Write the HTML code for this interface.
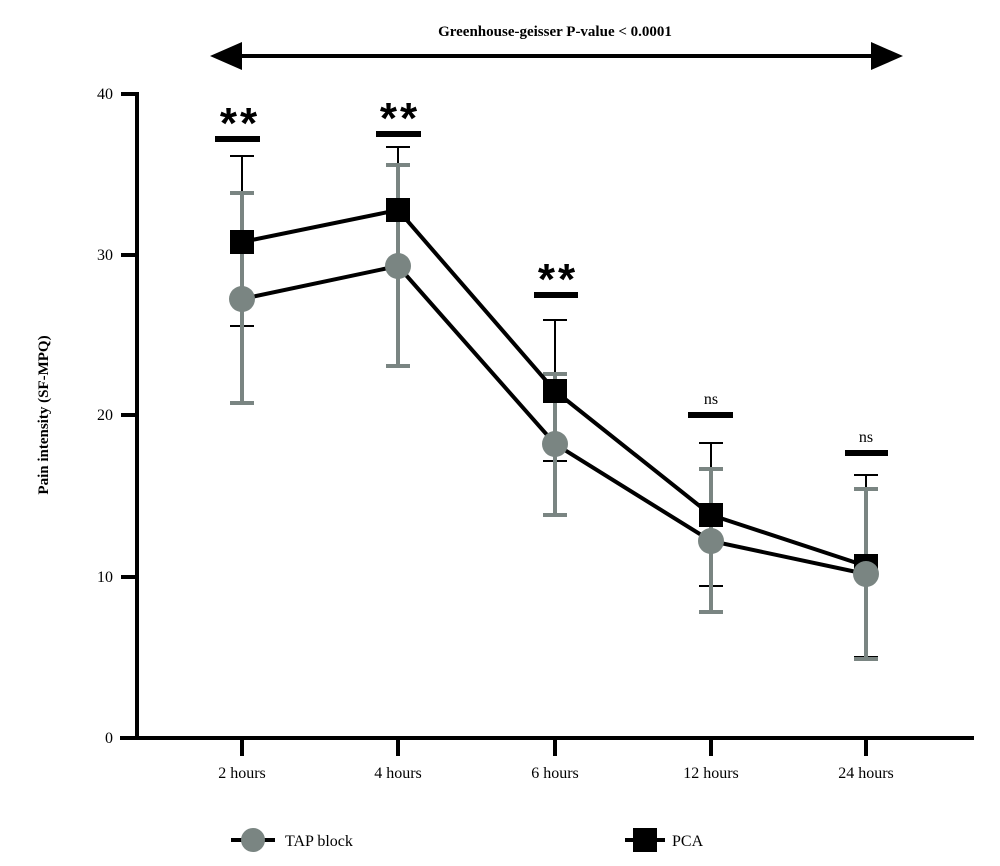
<!DOCTYPE html>
<html><head><meta charset="utf-8"><style>
html,body{margin:0;padding:0;background:#fff;}
svg{display:block;font-family:"Liberation Serif",serif;}
</style></head><body>
<svg width="1000" height="866" viewBox="0 0 1000 866">
<text x="555" y="36" text-anchor="middle" font-weight="bold" font-size="15">Greenhouse-geisser P-value &lt; 0.0001</text>
<line x1="235" y1="56" x2="878" y2="56" stroke="#000" stroke-width="4"/>
<polygon points="210,56 242,42 242,70" fill="#000"/>
<polygon points="903,56 871,42 871,70" fill="#000"/>
<text transform="translate(48,415) rotate(-90)" text-anchor="middle" font-weight="bold" font-size="15">Pain intensity (SF-MPQ)</text>
<g stroke="#000" stroke-width="4" fill="none">
<line x1="137" y1="92" x2="137" y2="740"/>
<line x1="120" y1="738" x2="974" y2="738"/>
<line x1="121" y1="94" x2="137" y2="94"/>
<line x1="121" y1="255" x2="137" y2="255"/>
<line x1="121" y1="415" x2="137" y2="415"/>
<line x1="121" y1="577" x2="137" y2="577"/>
<line x1="242" y1="738" x2="242" y2="756"/>
<line x1="398" y1="738" x2="398" y2="756"/>
<line x1="555" y1="738" x2="555" y2="756"/>
<line x1="711" y1="738" x2="711" y2="756"/>
<line x1="866" y1="738" x2="866" y2="756"/>
</g>
<g font-size="16" text-anchor="end">
<text x="113" y="99">40</text><text x="113" y="260">30</text><text x="113" y="420">20</text><text x="113" y="582">10</text><text x="113" y="743">0</text>
</g>
<g font-size="16" text-anchor="middle">
<text x="242" y="778">2 hours</text><text x="398" y="778">4 hours</text><text x="555" y="778">6 hours</text><text x="711" y="778">12 hours</text><text x="866" y="778">24 hours</text>
</g>
<g stroke="#000" stroke-width="2">
<line x1="242" y1="156" x2="242" y2="326"/><line x1="230" y1="156" x2="254" y2="156"/><line x1="230" y1="326" x2="254" y2="326"/>
<line x1="398" y1="147" x2="398" y2="272"/><line x1="386" y1="147" x2="410" y2="147"/>
<line x1="555" y1="320" x2="555" y2="461"/><line x1="543" y1="320" x2="567" y2="320"/><line x1="543" y1="461" x2="567" y2="461"/>
<line x1="711" y1="443" x2="711" y2="586"/><line x1="699" y1="443" x2="723" y2="443"/><line x1="699" y1="586" x2="723" y2="586"/>
<line x1="866" y1="475" x2="866" y2="657"/><line x1="854" y1="475" x2="878" y2="475"/><line x1="854" y1="657" x2="878" y2="657"/>
</g>
<g stroke="#7a8582" stroke-width="4">
<line x1="242" y1="193" x2="242" y2="403"/><line x1="230" y1="193" x2="254" y2="193"/><line x1="230" y1="403" x2="254" y2="403"/>
<line x1="398" y1="165" x2="398" y2="366"/><line x1="386" y1="165" x2="410" y2="165"/><line x1="386" y1="366" x2="410" y2="366"/>
<line x1="555" y1="374" x2="555" y2="515"/><line x1="543" y1="374" x2="567" y2="374"/><line x1="543" y1="515" x2="567" y2="515"/>
<line x1="711" y1="469" x2="711" y2="612"/><line x1="699" y1="469" x2="723" y2="469"/><line x1="699" y1="612" x2="723" y2="612"/>
<line x1="866" y1="489" x2="866" y2="659"/><line x1="854" y1="489" x2="878" y2="489"/><line x1="854" y1="659" x2="878" y2="659"/>
</g>
<g stroke="#000" stroke-width="4" fill="none">
<polyline points="242,242 398,210 555,391 711,515 866,566"/>
<polyline points="242,299 398,266 555,444 711,541 866,574"/>
</g>
<g fill="#000">
<rect x="230" y="230" width="24" height="24"/><rect x="386" y="198" width="24" height="24"/><rect x="543" y="379" width="24" height="24"/><rect x="699" y="503" width="24" height="24"/><rect x="854" y="554" width="24" height="24"/>
</g>
<g fill="#7a8582">
<circle cx="242" cy="299" r="13"/><circle cx="398" cy="266" r="13"/><circle cx="555" cy="444" r="13"/><circle cx="711" cy="541" r="13"/><circle cx="866" cy="574" r="13"/>
</g>
<g stroke="#000" stroke-width="6">
<line x1="215" y1="139" x2="260" y2="139"/><line x1="376" y1="134" x2="421" y2="134"/><line x1="534" y1="295" x2="578" y2="295"/><line x1="688" y1="415" x2="733" y2="415"/><line x1="845" y1="453" x2="888" y2="453"/>
</g>
<g font-family="Liberation Sans,sans-serif" font-weight="bold" font-size="44" text-anchor="middle" letter-spacing="3">
<text x="240" y="138">**</text><text x="400" y="133">**</text><text x="558" y="294">**</text>
</g>
<g font-size="16" text-anchor="middle"><text x="711" y="404">ns</text><text x="866" y="442">ns</text></g>
<line x1="231" y1="840" x2="275" y2="840" stroke="#000" stroke-width="4"/>
<circle cx="253" cy="840" r="12" fill="#7a8582"/>
<text x="285" y="846" font-size="16">TAP block</text>
<line x1="625" y1="840" x2="665" y2="840" stroke="#000" stroke-width="4"/>
<rect x="633" y="828" width="24" height="24" fill="#000"/>
<text x="672" y="846" font-size="16">PCA</text>
</svg>
</body></html>
